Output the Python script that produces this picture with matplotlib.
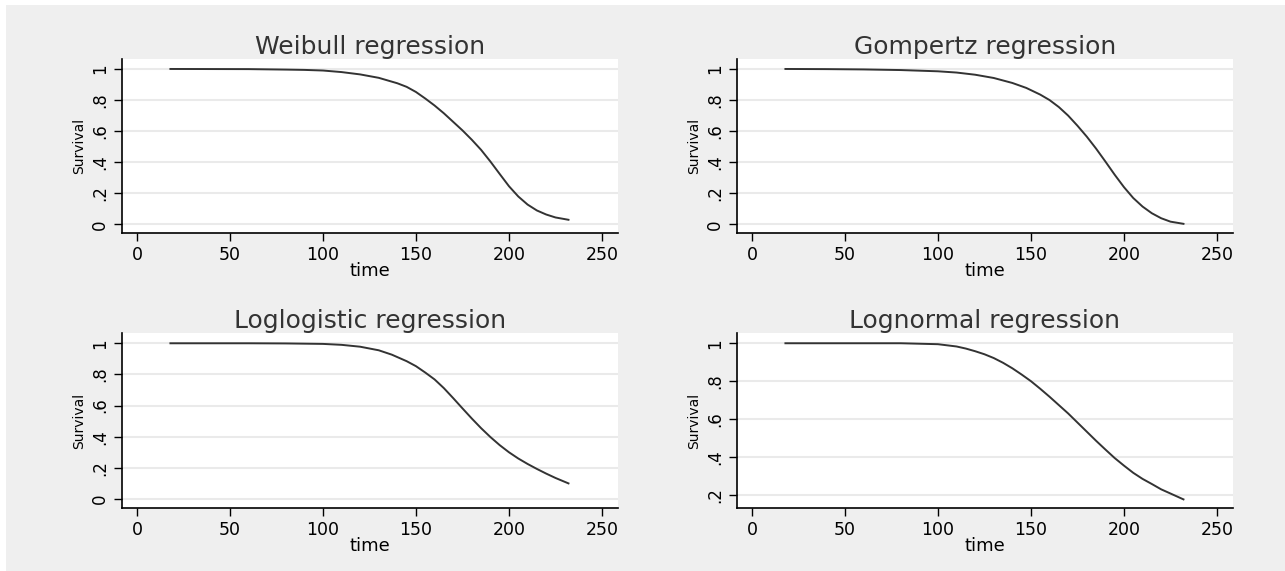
import matplotlib.pyplot as plt
from matplotlib.patches import Rectangle

# survival curves (time, S(t))
weibull_t = [18, 60, 80, 90, 100, 110, 120, 130, 140, 145, 150, 155, 160, 165, 170, 175, 180,
             185, 190, 195, 200, 205, 210, 215, 220, 225, 232]
weibull_s = [1.0, 0.999, 0.996, 0.994, 0.99, 0.98, 0.965, 0.943, 0.908, 0.885, 0.852, 0.81, 0.765,
             0.715, 0.66, 0.605, 0.545, 0.48, 0.405, 0.325, 0.246, 0.18, 0.128, 0.09, 0.064, 0.045, 0.03]

gompertz_t = [18, 40, 60, 80, 100, 110, 120, 130, 140, 147.5, 155, 160, 165, 170, 175, 180, 185,
              190, 195, 200, 205, 210, 215, 220, 225, 232]
gompertz_s = [1.0, 0.999, 0.997, 0.993, 0.985, 0.977, 0.963, 0.942, 0.91, 0.878, 0.835, 0.8, 0.755,
              0.70, 0.635, 0.565, 0.488, 0.405, 0.32, 0.24, 0.17, 0.115, 0.072, 0.04, 0.018, 0.004]

loglog_t = [18, 60, 80, 100, 110, 120, 130, 137, 145, 150, 155, 160, 165, 170, 175, 180, 185,
            190, 195, 200, 205, 210, 215, 220, 225, 232]
loglog_s = [1.0, 1.0, 0.999, 0.996, 0.99, 0.978, 0.955, 0.927, 0.885, 0.853, 0.812, 0.768, 0.712,
            0.648, 0.582, 0.517, 0.455, 0.398, 0.346, 0.3, 0.26, 0.225, 0.193, 0.163, 0.135, 0.1]

lognorm_t = [18, 80, 100, 110, 115, 120, 125, 130, 135, 140, 145, 150, 155, 160, 165, 170, 175,
             180, 185, 190, 195, 200, 205, 210, 215, 220, 225, 232]
lognorm_s = [1.0, 1.0, 0.995, 0.983, 0.972, 0.958, 0.942, 0.922, 0.897, 0.868, 0.835, 0.8, 0.76,
             0.718, 0.674, 0.63, 0.582, 0.534, 0.486, 0.44, 0.395, 0.355, 0.317, 0.285, 0.258,
             0.23, 0.208, 0.177]

titles = ['Weibull regression', 'Gompertz regression', 'Loglogistic regression', 'Lognormal regression']
xticks = [0, 50, 100, 150, 200, 250]
yticks_full = [0, 0.2, 0.4, 0.6, 0.8, 1]
ylabels_full = ['0', '.2', '.4', '.6', '.8', '1']
yticks_ln = [0.2, 0.4, 0.6, 0.8, 1]
ylabels_ln = ['.2', '.4', '.6', '.8', '1']

series = [(weibull_t, weibull_s), (gompertz_t, gompertz_s), (loglog_t, loglog_s), (lognorm_t, lognorm_s)]

fig = plt.figure(figsize=(12.85, 5.71), dpi=100, facecolor='white')
fig.patches.append(Rectangle((6 / 1285, -0.1), 2, 1.1 - 5 / 571, transform=fig.transFigure,
                             facecolor='#efefef', edgecolor='none', zorder=-10))

positions = [
    [0.0947, 0.5914, 0.3862, 0.3047],
    [0.5733, 0.5914, 0.3862, 0.3047],
    [0.0947, 0.1098, 0.3862, 0.3070],
    [0.5733, 0.1098, 0.3862, 0.3070],
]
ylims = [(-0.057, 1.062), (-0.057, 1.062), (-0.06, 1.066), (0.13, 1.054)]

for i in range(4):
    ax = fig.add_axes(positions[i])
    ax.set_facecolor('white')
    t, s = series[i]
    ax.plot(t, s, color='#333333', linewidth=1.4, solid_joinstyle='round')
    ax.set_xlim(-8.2, 258.6)
    ax.set_ylim(*ylims[i])
    ax.set_xticks(xticks)
    ax.set_xticklabels([str(x) for x in xticks], fontsize=12.5)
    if i == 3:
        ax.set_yticks(yticks_ln)
        ax.set_yticklabels(ylabels_ln, fontsize=12, rotation=90, va='center')
    else:
        ax.set_yticks(yticks_full)
        ax.set_yticklabels(ylabels_full, fontsize=12, rotation=90, va='center')
    ax.grid(axis='y', color='#eaeaea', linewidth=1.5)
    ax.set_axisbelow(True)
    for side in ['top', 'right']:
        ax.spines[side].set_visible(False)
    for side in ['left', 'bottom']:
        ax.spines[side].set_color('black')
        ax.spines[side].set_linewidth(1.2)
    ax.tick_params(length=6, width=1, colors='black', pad=3)
    ax.set_title(titles[i], fontsize=18, color='#333333', pad=3)
    ax.set_xlabel('time', fontsize=13, labelpad=-1)
    ax.set_ylabel('Survival', fontsize=10, labelpad=4)

fig.savefig('out.png', dpi=100, facecolor=fig.get_facecolor())
